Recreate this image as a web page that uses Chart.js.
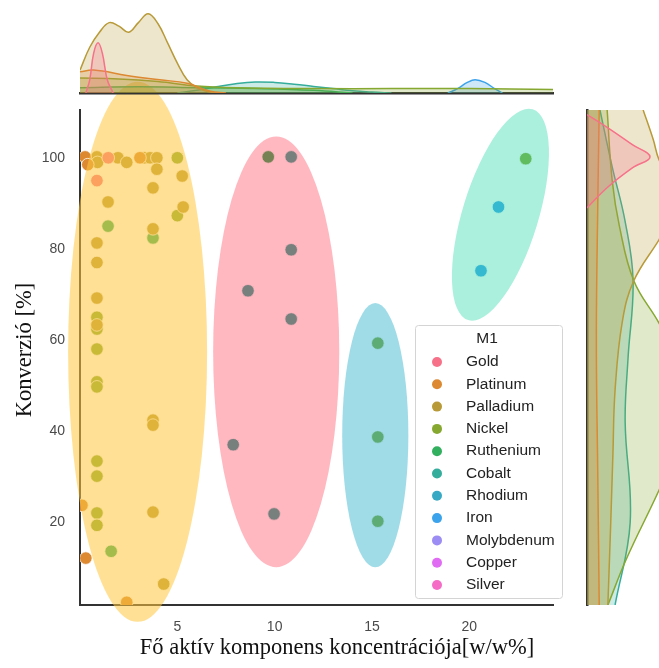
<!DOCTYPE html>
<html>
<head>
<meta charset="utf-8">
<script src="https://cdn.jsdelivr.net/npm/chart.js@4.4.1/dist/chart.umd.min.js"></script>
<style>
  html, body { margin: 0; padding: 0; background: #fff; }
  #wrap { position: relative; width: 659px; height: 668px; overflow: hidden; }
  canvas { position: absolute; }
</style>
</head>
<body>
<div id="wrap">
  <canvas id="main" width="659" height="668" style="left:0;top:0"></canvas>
  <canvas id="top" width="659" height="100" style="left:0;top:0"></canvas>
  <canvas id="right" width="79" height="668" style="left:580px;top:0"></canvas>
</div>
<script>
// ---- data ----
const metals = ["Gold", "Platinum", "Palladium", "Nickel", "Ruthenium", "Cobalt",
                "Rhodium", "Iron", "Molybdenum", "Copper", "Silver"];

// [concentration w/w%, conversion %]
const goldPts = [[0.87, 95], [1.45, 100]];
const platinumPts = [[0.26, 100.2], [0.4, 98.5], [3.08, 100], [0.1, 23.7], [0.3, 12.1], [2.4, 2.4]];
const palladiumPts = [[0.87, 100.2], [0.9, 99], [1.95, 100], [2.4, 99], [3.3, 100], [3.6, 100],
                      [3.95, 100], [3.95, 97.5], [5.25, 96], [3.75, 93.4], [1.44, 90.3], [5.3, 89.2],
                      [3.75, 84.4], [0.87, 81.3], [0.87, 77], [0.87, 69.2], [0.87, 63.3],
                      [3.75, 42.4], [3.75, 41.3], [3.75, 22.2], [4.3, 6.4]];
const nickelPts = [[5, 100], [5, 87.3], [0.87, 65], [0.87, 62.4], [0.87, 58], [0.87, 50.8],
                   [0.87, 49.7], [0.87, 33.4], [0.87, 30.1], [0.87, 22], [0.87, 19.3],
                   [15.3, 59.3], [15.3, 38.7], [15.3, 20.2], [22.9, 99.8]];
const rutheniumPts = [[1.44, 85], [3.75, 82.4], [1.6, 13.6], [9.67, 100.2]];
const cobaltPts = [[10.85, 100.2], [10.85, 79.8], [8.63, 70.8], [10.85, 64.6], [7.87, 37], [9.97, 21.8]];
const rhodiumPts = [];
const ironPts = [[21.5, 89.2], [20.6, 75.2]];
const molybdenumPts = [];
const copperPts = [];
const silverPts = [];

const xTicks = [5, 10, 15, 20];
const yTicks = [20, 40, 60, 80, 100];

// marginal densities (top: along x, right: along y)
const topGoldX = [0.3, 0.5, 0.7, 0.93, 1.15, 1.4, 1.7];
const topGoldD = [0, 0.15, 0.45, 0.57, 0.45, 0.15, 0];
const topPlatinumX = [0, 0.7, 2.4, 4.1, 5.5, 6.7, 7.5];
const topPlatinumD = [0.24, 0.26, 0.2, 0.15, 0.11, 0.02, 0];
const topPalladiumX = [0, 0.5, 1, 1.5, 2, 2.5, 3, 3.5, 4, 4.5, 5, 5.5, 6, 6.5, 7];
const topPalladiumD = [0.26, 0.52, 0.69, 0.8, 0.76, 0.69, 0.8, 0.9, 0.79, 0.57, 0.34, 0.15, 0.06, 0.02, 0];
const topNickelX = [0, 2, 4, 6, 8, 12, 16, 20, 24.3];
const topNickelD = [0.17, 0.16, 0.13, 0.08, 0.06, 0.05, 0.05, 0.05, 0.04];
const topRutheniumX = [0, 3, 6, 9, 12, 14];
const topRutheniumD = [0.06, 0.07, 0.06, 0.05, 0.03, 0];
const topCobaltX = [5, 6, 7, 8, 9, 10, 11, 12, 13, 14, 15, 16];
const topCobaltD = [0, 0.03, 0.07, 0.105, 0.125, 0.12, 0.1, 0.075, 0.05, 0.025, 0.01, 0];
const topIronX = [18.9, 19.4, 19.9, 20.3, 20.8, 21.3, 21.7];
const topIronD = [0, 0.05, 0.12, 0.15, 0.12, 0.05, 0];

const rightGoldY = [89, 93.6, 97.8, 100.2, 102.9, 106.6, 109.5];
const rightGoldD = [0, 0.29, 0.63, 0.875, 0.63, 0.29, 0];
const rightPlatinumY = [1.8, 30, 60, 90, 110.5];
const rightPlatinumD = [0.17, 0.15, 0.13, 0.15, 0.17];
const rightPalladiumY = [1.8, 20, 35, 49, 64, 73, 82, 90, 99.6, 104, 110.5];
const rightPalladiumD = [0.29, 0.33, 0.36, 0.39, 0.49, 0.65, 1.0, 1.3, 1.0, 0.92, 0.78];
const rightNickelY = [1.8, 12, 27, 38, 50, 63.7, 73, 85, 95, 110.5];
const rightNickelD = [0.29, 0.55, 1.0, 1.3, 1.45, 1.0, 0.65, 0.45, 0.35, 0.28];
const rightCobaltY = [1.8, 20, 42, 56, 73, 86, 98, 110.5];
const rightCobaltD = [0.39, 0.6, 0.53, 0.57, 0.64, 0.53, 0.35, 0.18];

// ---- styling ----
const metalColors = ["#f77189", "#dc8932", "#b89a38", "#86a831", "#33b05f", "#35ad9c",
                     "#38a9c5", "#3ba3ec", "#9c8df4", "#e16cf4", "#f56cc6"];
const X_MIN = 0, X_MAX = 24.3, Y_MIN = 1.8, Y_MAX = 110.5;

// highlighted groups, in axis units (angle in degrees, clockwise on screen)
const clusterShapes = [
  { cx: 2.96, cy: 57.4, rx: 3.57, ry: 59.3, angle: 0, color: "rgba(255,199,60,0.55)" },
  { cx: 10.08, cy: 57.4, rx: 3.24, ry: 47.3, angle: 0, color: "rgba(255,36,64,0.33)" },
  { cx: 15.17, cy: 39.1, rx: 1.7, ry: 29.0, angle: 0, color: "rgba(44,177,204,0.45)" },
  { cx: 21.6, cy: 87.5, rx: 1.95, ry: 24.2, angle: 17, color: "rgba(42,217,167,0.4)" }
];

function alpha(hex, a) {
  const n = parseInt(hex.slice(1), 16);
  return "rgba(" + (n >> 16) + "," + ((n >> 8) & 255) + "," + (n & 255) + "," + a + ")";
}
function pairs(arr) { return arr.map(p => ({ x: p[0], y: p[1] })); }
function alongX(xs, ds) { return xs.map((v, i) => ({ x: v, y: ds[i] })); }
function alongY(ys, ds) { return ys.map((v, i) => ({ x: ds[i], y: v })); }

const tickFont = { family: "'Liberation Sans', Arial, sans-serif", size: 14 };

const clusterPlugin = {
  id: "clusters",
  afterDatasetsDraw(chart) {
    const { ctx, scales: { x, y } } = chart;
    const ux = x.getPixelForValue(1) - x.getPixelForValue(0);
    const uy = y.getPixelForValue(0) - y.getPixelForValue(1);
    ctx.save();
    clusterShapes.forEach(c => {
      ctx.beginPath();
      ctx.ellipse(x.getPixelForValue(c.cx), y.getPixelForValue(c.cy),
                  c.rx * ux, c.ry * uy, c.angle * Math.PI / 180, 0, Math.PI * 2);
      ctx.fillStyle = c.color;
      ctx.fill();
    });
    ctx.restore();
  }
};

const boxLegend = {
  id: "boxLegend",
  afterDraw(chart) {
    const ctx = chart.ctx;
    ctx.save();
    ctx.fillStyle = "rgba(255,255,255,0.85)";
    ctx.strokeStyle = "#d4d4d4";
    ctx.lineWidth = 1;
    ctx.beginPath();
    ctx.roundRect(415.5, 325.5, 147, 273, 3);
    ctx.fill();
    ctx.stroke();
    ctx.font = "15.5px 'Liberation Sans', Arial, sans-serif";
    ctx.fillStyle = "#222";
    ctx.textAlign = "center";
    ctx.textBaseline = "middle";
    ctx.fillText("M1", 487, 339);
    ctx.textAlign = "left";
    chart.data.datasets.forEach((ds, i) => {
      const yy = 362 + i * 22.3;
      ctx.beginPath();
      ctx.arc(437, yy, 5, 0, Math.PI * 2);
      ctx.fillStyle = ds.pointBackgroundColor;
      ctx.fill();
      ctx.fillStyle = "#222";
      ctx.fillText(ds.label, 466, yy);
    });
    ctx.restore();
  }
};

const axisTitles = {
  id: "axisTitles",
  afterDraw(chart) {
    const ctx = chart.ctx;
    ctx.save();
    ctx.fillStyle = "#111";
    ctx.font = "22.5px 'Liberation Serif', 'Times New Roman', serif";
    ctx.textAlign = "center";
    ctx.textBaseline = "alphabetic";
    ctx.fillText("Fő aktív komponens koncentrációja[w/w%]", 337, 654);
    ctx.translate(31, 350);
    ctx.rotate(-Math.PI / 2);
    ctx.fillText("Konverzió [%]", 0, 0);
    ctx.restore();
  }
};

const pointSets = [goldPts, platinumPts, palladiumPts, nickelPts, rutheniumPts, cobaltPts,
                   rhodiumPts, ironPts, molybdenumPts, copperPts, silverPts];

new Chart(document.getElementById("main"), {
  type: "scatter",
  data: {
    datasets: metals.map((m, i) => ({
      label: m,
      data: pairs(pointSets[i]),
      pointBackgroundColor: metalColors[i],
      pointBorderColor: "#ffffff",
      pointBorderWidth: 0.8,
      pointRadius: 6.3,
      pointHoverRadius: 6.3
    }))
  },
  options: {
    responsive: false,
    animation: false,
    devicePixelRatio: 1,
    layout: { padding: { left: 0, top: 110, right: 106, bottom: 0 } },
    plugins: { legend: { display: false }, tooltip: { enabled: false } },
    scales: {
      x: {
        type: "linear", min: X_MIN, max: X_MAX,
        grid: { display: false, drawTicks: false },
        border: { display: true, color: "#333", width: 2 },
        ticks: { font: tickFont, color: "#4a4a4a", padding: 14 },
        afterBuildTicks: s => { s.ticks = xTicks.map(v => ({ value: v })); },
        afterFit: s => { s.height = 63; }
      },
      y: {
        type: "linear", min: Y_MIN, max: Y_MAX,
        grid: { display: false, drawTicks: false },
        border: { display: true, color: "#333", width: 2 },
        ticks: { font: tickFont, color: "#4a4a4a", padding: 15 },
        afterBuildTicks: s => { s.ticks = yTicks.map(v => ({ value: v })); },
        afterFit: s => { s.width = 80; }
      }
    }
  },
  plugins: [clusterPlugin, boxLegend, axisTitles]
});

function kde(points, idx) {
  return {
    data: points,
    borderColor: metalColors[idx],
    backgroundColor: alpha(metalColors[idx], 0.25),
    borderWidth: 1.5,
    fill: "origin",
    pointRadius: 0,
    tension: 0.4
  };
}

new Chart(document.getElementById("top"), {
  type: "line",
  data: {
    datasets: [
      kde(alongX(topGoldX, topGoldD), 0),
      kde(alongX(topPlatinumX, topPlatinumD), 1),
      kde(alongX(topPalladiumX, topPalladiumD), 2),
      kde(alongX(topNickelX, topNickelD), 3),
      kde(alongX(topRutheniumX, topRutheniumD), 4),
      kde(alongX(topCobaltX, topCobaltD), 5),
      kde(alongX(topIronX, topIronD), 7)
    ]
  },
  options: {
    responsive: false,
    animation: false,
    devicePixelRatio: 1,
    layout: { padding: { left: 80, right: 106, top: 5, bottom: 7 } },
    plugins: { legend: { display: false }, tooltip: { enabled: false } },
    scales: {
      x: {
        type: "linear", min: X_MIN, max: X_MAX,
        ticks: { display: false },
        grid: { display: false, drawTicks: false },
        border: { display: true, color: "#333", width: 2.5 },
        afterFit: s => { s.height = 0; }
      },
      y: { type: "linear", min: 0, max: 1, display: false }
    }
  }
});

new Chart(document.getElementById("right"), {
  type: "line",
  data: {
    datasets: [
      kde(alongY(rightGoldY, rightGoldD), 0),
      kde(alongY(rightPlatinumY, rightPlatinumD), 1),
      kde(alongY(rightPalladiumY, rightPalladiumD), 2),
      kde(alongY(rightNickelY, rightNickelD), 3),
      kde(alongY(rightCobaltY, rightCobaltD), 5)
    ]
  },
  options: {
    indexAxis: "y",
    responsive: false,
    animation: false,
    devicePixelRatio: 1,
    layout: { padding: { left: 7, right: 0, top: 110, bottom: 63 } },
    plugins: { legend: { display: false }, tooltip: { enabled: false } },
    scales: {
      x: { type: "linear", min: 0, max: 1, display: false },
      y: {
        type: "linear", min: Y_MIN, max: Y_MAX,
        ticks: { display: false },
        grid: { display: false, drawTicks: false },
        border: { display: true, color: "#333", width: 2.5 },
        afterFit: s => { s.width = 0; }
      }
    }
  }
});
</script>
</body>
</html>
